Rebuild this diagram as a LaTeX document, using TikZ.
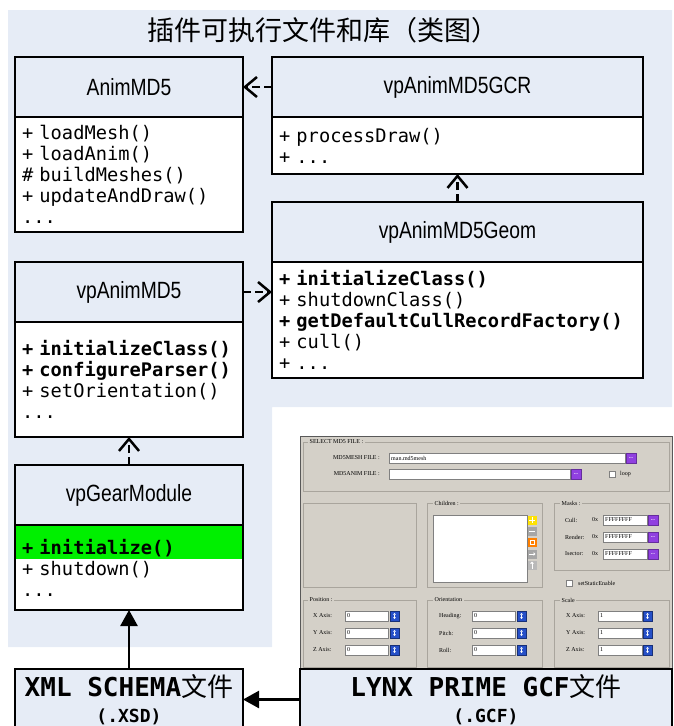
\documentclass[tikz,border=0pt]{standalone}
\usepackage{fontspec}
\setmainfont{Liberation Sans}
\newfontfamily\headfont[FakeStretch=0.82]{Liberation Sans}
\newfontfamily\codefont{DejaVu Sans Mono}
\newfontfamily\cjk{Noto Sans CJK SC}
\newfontfamily\guifont{Liberation Serif}
\usetikzlibrary{arrows.meta, positioning}
\definecolor{umlblue}{HTML}{E6ECF6}
\definecolor{hlgreen}{HTML}{00F000}
\definecolor{guigray}{HTML}{D4D0C8}
\definecolor{guiedge}{HTML}{A9A59D}
\definecolor{btnpurple}{HTML}{9040E0}
\definecolor{btnblue}{HTML}{2650C8}

\begin{document}
\begin{tikzpicture}[x=1pt,y=-1pt,>=Stealth,
  classhead/.style={draw,line width=2.5pt,fill=umlblue,outer sep=0pt,inner sep=0pt,
    minimum width=228pt,minimum height=60pt,font=\headfont\fontsize{23.5}{26}\selectfont},
  classbody/.style={draw,line width=2.5pt,fill=white,outer sep=0pt,inner xsep=7pt,inner ysep=0pt,
    minimum width=228pt,text width=214pt,align=left,font=\codefont\fontsize{18.7}{21}\selectfont},
  filebox/.style={draw,line width=2.5pt,fill=umlblue,outer sep=0pt,minimum height=61pt,align=center,
    font=\codefont\bfseries\fontsize{26}{29}\selectfont},
  depends/.style={line width=2.5pt,dash pattern=on 8pt off 4pt,-{Straight Barb[length=12pt,width=20pt]}},
  uses/.style={line width=2.5pt,-{Triangle[length=16pt,width=17pt]}},
  grp/.style={draw=guiedge,line width=0.8pt},
  grplabel/.style={fill=guigray,inner sep=1.5pt,anchor=west,font=\guifont\fontsize{6}{6}\selectfont},
  guitext/.style={inner sep=0pt,anchor=west,font=\guifont\fontsize{6}{6}\selectfont},
  field/.style={fill=white,draw=gray,line width=0.5pt},
  dotbtn/.style={fill=btnpurple,draw=btnpurple!70!black,line width=0.3pt,minimum width=10pt,minimum height=10pt,
    inner sep=0pt,text=white,font=\bfseries\fontsize{5}{5}\selectfont},
  spinbtn/.style={fill=btnblue,draw=btnblue!60!black,line width=0.3pt,minimum width=9pt,minimum height=10pt,inner sep=0pt,
    path picture={\draw[white,line width=0.6pt,{Triangle[length=1.6pt,width=2.8pt]}-{Triangle[length=1.6pt,width=2.8pt]}]
      ([yshift=-2pt]path picture bounding box.north) -- ([yshift=2pt]path picture bounding box.south);}},
  listbtn/.style={minimum size=9pt,inner sep=0pt}]

\useasboundingbox (0,0) rectangle (674,726);
\clip (0,0) rectangle (674,726);

% class diagram background
\fill[umlblue] (8,10) -- (672,10) -- (672,407) -- (272,407) -- (272,647) -- (8,647) -- cycle;
\node[font=\cjk\fontsize{27}{30}\selectfont] (title) at (323,30) {插件可执行文件和库（类图）};

% classes
\node[classhead] (animH) at (129,87) {AnimMD5};
\node[classbody,minimum height=115pt,below=0pt of animH] (animB)
  {+ loadMesh()\\+ loadAnim()\\\# buildMeshes()\\+ updateAndDraw()\\...};
\node[classhead,minimum width=371pt,right=29pt of animH] (gcrH) {vpAnimMD5GCR};
\node[classbody,minimum width=371pt,text width=357pt,minimum height=57pt,below=0pt of gcrH] (gcrB)
  {+ processDraw()\\+ ...};
\node[classhead,minimum width=371pt,below=28pt of gcrB] (geomH) {vpAnimMD5Geom};
\node[classbody,minimum width=371pt,text width=357pt,minimum height=116pt,below=0pt of geomH] (geomB)
  {{\bfseries + initializeClass()}\\+ shutdownClass()\\{\bfseries + getDefaultCullRecordFactory()}\\+ cull()\\+ ...};
\node[classhead,below=30pt of animB] (vpH) {vpAnimMD5};
\node[classbody,minimum height=115pt,below=0pt of vpH] (vpB)
  {{\bfseries + initializeClass()}\\{\bfseries + configureParser()}\\+ setOrientation()\\...};
\node[classhead,below=28pt of vpB] (gearH) {vpGearModule};
\node[classbody,minimum height=85pt,below=0pt of gearH,
  path picture={\fill[hlgreen] ([xshift=1.3pt,yshift=-1.3pt]path picture bounding box.north west)
    rectangle ([xshift=-1.3pt,yshift=-34pt]path picture bounding box.north east);}] (gearB)
  {{\bfseries + initialize()}\\+ shutdown()\\...};

% screenshot of the plugin dialog
\fill[guigray] (300,436) rectangle (672,669);
\draw[black!65,line width=1pt] (300,669) |- (672,436) -- (672,669);
\draw[grp] (303,442) rectangle (669,491);
\node[grplabel] at (308,442) {SELECT MD5 FILE :};
\node[guitext,anchor=east] at (380,458) {MD5MESH FILE :};
\draw[field] (389,453) rectangle (625,463);
\node[guitext] at (391,458) {man.md5mesh};
\node[dotbtn] at (631,458) {...};
\node[guitext,anchor=east] at (380,474) {MD5ANIM FILE :};
\draw[field] (389,469) rectangle (570,479);
\node[dotbtn] at (576,474) {...};
\draw[field] (609,471) rectangle (615,477);
\node[guitext] at (620,474) {loop};

\draw[grp] (303,503) rectangle (416,587);
\draw[grp] (427,503) rectangle (542,587);
\node[grplabel] at (433,503) {Children :};
\draw[field] (433,515) rectangle (527,582);
\node[listbtn,fill=yellow!85!orange] at (532,520) {};
\node[listbtn,fill=gray!70] at (532,531) {};
\node[listbtn,fill=orange] at (532,542.5) {};
\node[listbtn,fill=gray!70] at (532,554) {};
\node[listbtn,fill=gray!55] at (532,565) {};
\draw[white,line width=1pt] (529,520) -- (535,520) (532,517) -- (532,523) (529,531) -- (535,531);
\draw[white,line width=0.5pt] (530,540.5) rectangle (534,544.5);
\draw[white,line width=1pt,-{Triangle[length=2pt,width=3.5pt]}] (528.5,554) -- (535.5,554);
\draw[white,line width=1pt,-{Triangle[length=2pt,width=3.5pt]}] (532,568.5) -- (532,561.5);

\draw[grp] (554,503) rectangle (669,570);
\node[grplabel] at (560,503) {Masks :};
\foreach \lab [count=\i] in {Cull:,Render:,Isector:} {
  \node[guitext] at (565,503+17*\i) {\lab};
  \node[guitext] at (592,503+17*\i) {0x};
  \draw[field] (603,498+17*\i) rectangle (647,508+17*\i);
  \node[guitext] at (605,503+17*\i) {FFFFFFFF};
  \node[dotbtn] at (653,503+17*\i) {...};
}
\draw[field] (566,580) rectangle (572,586);
\node[guitext] at (578,583) {setStaticEnable};

\draw[grp] (303,600) rectangle (416,667);
\node[grplabel] at (308,600) {Position :};
\draw[grp] (427,600) rectangle (542,667);
\node[grplabel] at (433,600) {Orientation};
\draw[grp] (554,600) rectangle (669,667);
\node[grplabel] at (560,600) {Scale};
\foreach \lab [count=\i] in {X Axis:,Y Axis:,Z Axis:} {
  \node[guitext] at (313,599+17*\i) {\lab};
  \draw[field] (345,594+17*\i) rectangle (388,604+17*\i);
  \node[guitext] at (347,599+17*\i) {0};
  \node[spinbtn] at (394.5,599+17*\i) {};
  \node[guitext] at (566,599+17*\i) {\lab};
  \draw[field] (598,594+17*\i) rectangle (642,604+17*\i);
  \node[guitext] at (600,599+17*\i) {1};
  \node[spinbtn] at (647.5,599+17*\i) {};
}
\foreach \lab [count=\i] in {Heading:,Pitch:,Roll:} {
  \node[guitext] at (439,599+17*\i) {\lab};
  \draw[field] (472,594+17*\i) rectangle (515,604+17*\i);
  \node[guitext] at (474,599+17*\i) {0};
  \node[spinbtn] at (521.5,599+17*\i) {};
}

% file boxes
\node[filebox,minimum width=228pt,below=59pt of gearB] (xsd)
  {XML SCHEMA{\cjk\mdseries 文件}\\[-3pt]{\fontsize{18}{21}\selectfont(.XSD)}};
\node[filebox,minimum width=372pt,right=57pt of xsd] (gcf)
  {LYNX PRIME GCF{\cjk\mdseries 文件}\\[-3pt]{\fontsize{18}{21}\selectfont(.GCF)}};

% connectors
\draw[depends] (gcrH) -- (animH);
\draw[depends] (geomH) -- (gcrB);
\draw[depends] (vpH.east) -- (vpH.east -| geomB.west);
\draw[depends] (gearH) -- (vpB);
\draw[uses] (xsd) -- (gearB);
\draw[uses] (gcf) -- (xsd);
\end{tikzpicture}
\end{document}
